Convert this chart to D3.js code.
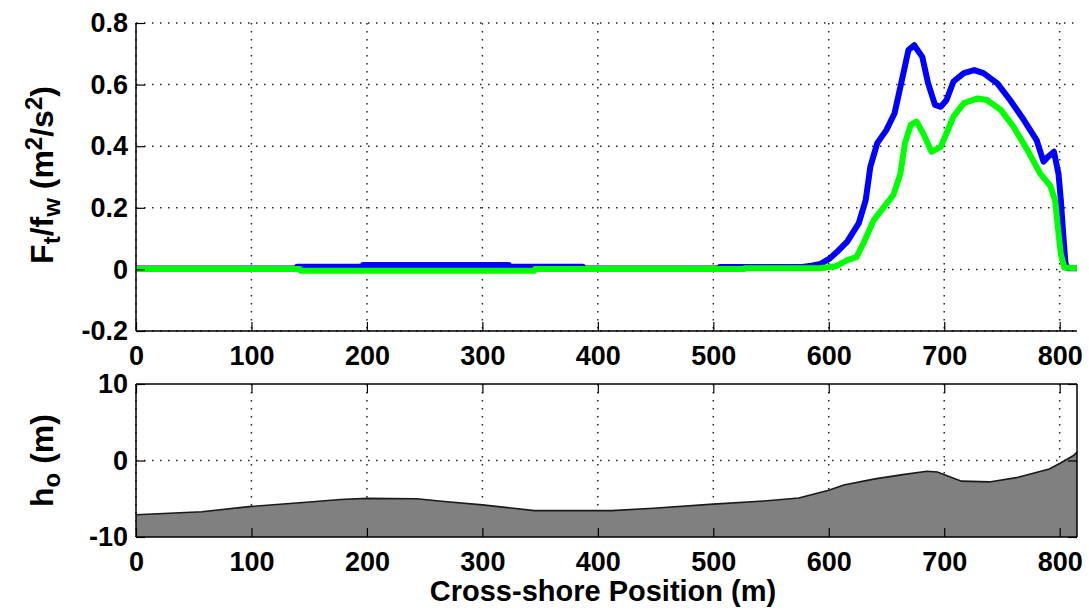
<!DOCTYPE html>
<html>
<head>
<meta charset="utf-8">
<script src="https://cdn.jsdelivr.net/npm/d3@7"></script>
<style>
  html, body { margin: 0; padding: 0; background: #fff; }
  svg { display: block; }
  text { font-family: "Liberation Sans", Arial, Helvetica, sans-serif; font-weight: bold; fill: #000; }
</style>
</head>
<body>
<svg id="chart" width="1089" height="611"></svg>
<script>
// Cross-shore forcing F_t/f_w, two runs (blue and green), positions in m
const blueX = [0, 139, 139.5, 196, 196.5, 323, 323.5, 387, 387.5, 505, 505.5, 577, 585, 593, 601, 608, 616, 626, 632, 636, 642, 650, 657, 664, 669, 674, 681, 686, 692, 697, 702, 708, 717, 726, 734, 746, 757, 769, 780, 786, 790, 795, 799, 801, 803, 805, 807, 815];
const blueY = [0.003, 0.003, 0.009, 0.009, 0.014, 0.014, 0.009, 0.009, 0.003, 0.003, 0.008, 0.008, 0.012, 0.018, 0.036, 0.06, 0.09, 0.15, 0.225, 0.333, 0.41, 0.453, 0.507, 0.626, 0.712, 0.728, 0.69, 0.605, 0.534, 0.528, 0.55, 0.61, 0.637, 0.647, 0.637, 0.604, 0.55, 0.485, 0.42, 0.35, 0.366, 0.382, 0.31, 0.225, 0.117, 0.02, 0.004, 0.004];

const greenX = [0, 142, 142.5, 345, 345.5, 527, 527.5, 592, 606, 616, 624, 630, 639, 648, 656, 662, 666, 671, 676, 682, 689, 697, 702, 708, 717, 729, 737, 749, 760, 772, 783, 792, 796, 799, 801, 804, 815];
const greenY = [0.001, 0.001, -0.004, -0.004, 0.001, 0.001, 0.004, 0.004, 0.01, 0.03, 0.04, 0.085, 0.16, 0.204, 0.242, 0.31, 0.41, 0.469, 0.48, 0.44, 0.382, 0.398, 0.442, 0.496, 0.54, 0.555, 0.55, 0.518, 0.463, 0.388, 0.312, 0.27, 0.225, 0.117, 0.05, 0.006, 0.004];

// Bed elevation h_o (m) along the profile
const depthX = [0, 57, 100, 153, 177, 200, 243, 267, 300, 327, 345, 400, 412, 448, 500, 544, 574, 600, 613, 640, 664, 685, 694, 715, 739, 764, 791, 800, 812, 815];
const depthY = [-7.1, -6.7, -6.0, -5.4, -5.1, -4.95, -5.0, -5.35, -5.8, -6.25, -6.55, -6.55, -6.55, -6.25, -5.7, -5.3, -4.9, -3.9, -3.2, -2.4, -1.85, -1.4, -1.5, -2.7, -2.8, -2.2, -1.1, -0.4, 0.65, 1.1];

const xTicks = [0, 100, 200, 300, 400, 500, 600, 700, 800];
const topYTicks = [-0.2, 0, 0.2, 0.4, 0.6, 0.8];
const botYTicks = [-10, 0, 10];

const svg = d3.select("#chart");
const L = 136, R = 1077;
const top1 = 23, bot1 = 331;
const top2 = 384, bot2 = 537;
const tickLen = 9;
const fontSize = 27;

const x = d3.scaleLinear().domain([0, 815]).range([L, R]);
const y1 = d3.scaleLinear().domain([-0.2, 0.8]).range([bot1, top1]);
const y2 = d3.scaleLinear().domain([-10, 10]).range([bot2, top2]);

// plain hyphen for negatives, as in the printed figure
const fmt1 = d => d === 0 ? "0" : d3.format(".1f")(d).replace("\u2212", "-");
const fmtInt = d => String(d);

const dotted = { stroke: "#222", "stroke-width": 1.5, "stroke-dasharray": "1.5,6.5" };
function applyAttrs(sel, attrs) { Object.entries(attrs).forEach(([k, v]) => sel.attr(k, v)); return sel; }
function styleAxis(a) {
  a.select(".domain").attr("stroke", "#000").attr("stroke-width", 1.5);
  a.selectAll(".tick line").attr("stroke", "#000").attr("stroke-width", 1.2);
  a.selectAll(".tick text").style("font-size", fontSize + "px")
    .style("font-family", "'Liberation Sans', Arial, sans-serif").style("font-weight", "bold").attr("fill", "#000");
}

// ---------- upper panel: forcing ----------
const g1 = svg.append("g");
xTicks.forEach(t => applyAttrs(g1.append("line").attr("x1", x(t)).attr("x2", x(t)).attr("y1", top1).attr("y2", bot1), dotted));
topYTicks.forEach(t => applyAttrs(g1.append("line").attr("x1", L).attr("x2", R).attr("y1", y1(t)).attr("y2", y1(t)), dotted));

const line1 = d3.line().x(d => x(d[0])).y(d => y1(d[1]));
const blue = blueX.map((v, i) => [v, blueY[i]]);
const green = greenX.map((v, i) => [v, greenY[i]]);
g1.append("path").datum(blue).attr("d", line1).attr("fill", "none")
  .attr("stroke", "#0000ff").attr("stroke-width", 6).attr("stroke-linejoin", "round");
g1.append("path").datum(green).attr("d", line1).attr("fill", "none")
  .attr("stroke", "#00ff00").attr("stroke-width", 6).attr("stroke-linejoin", "round");

// axes (left + bottom only), ticks point inward
const ax1x = g1.append("g").attr("transform", `translate(0,${bot1})`)
  .call(d3.axisBottom(x).tickValues(xTicks).tickSize(-tickLen).tickPadding(15).tickFormat(fmtInt));
const ax1y = g1.append("g").attr("transform", `translate(${L},0)`)
  .call(d3.axisLeft(y1).tickValues(topYTicks).tickSize(-tickLen).tickPadding(8).tickFormat(fmt1));
[ax1x, ax1y].forEach(styleAxis);
ax1x.select(".domain").attr("d", `M${L},0H${R}`);
ax1y.select(".domain").attr("d", `M0,${bot1}V${top1}`);

const yl1 = svg.append("text").attr("transform", `translate(53,175) rotate(-90)`)
  .attr("text-anchor", "middle").style("font-size", "32px");
yl1.append("tspan").text("F");
yl1.append("tspan").attr("baseline-shift", "-30%").style("font-size", "24px").text("t");
yl1.append("tspan").text("/f");
yl1.append("tspan").attr("baseline-shift", "-30%").style("font-size", "24px").text("w");
yl1.append("tspan").text(" (m");
yl1.append("tspan").attr("baseline-shift", "45%").style("font-size", "24px").text("2");
yl1.append("tspan").text("/s");
yl1.append("tspan").attr("baseline-shift", "45%").style("font-size", "24px").text("2");
yl1.append("tspan").text(")");

// ---------- lower panel: bed profile ----------
const g2 = svg.append("g");
xTicks.forEach(t => applyAttrs(g2.append("line").attr("x1", x(t)).attr("x2", x(t)).attr("y1", top2).attr("y2", bot2), dotted));
applyAttrs(g2.append("line").attr("x1", L).attr("x2", R).attr("y1", y2(0)).attr("y2", y2(0)), dotted);

const depth = depthX.map((v, i) => [v, depthY[i]]);
const area = d3.area().x(d => x(d[0])).y0(y2(-10)).y1(d => y2(d[1]));
g2.append("path").datum(depth).attr("d", area).attr("fill", "#808080");
g2.append("path").datum(depth).attr("d", d3.line().x(d => x(d[0])).y(d => y2(d[1])))
  .attr("fill", "none").attr("stroke", "#1a1a1a").attr("stroke-width", 1.6);

const ax2x = g2.append("g").attr("transform", `translate(0,${bot2})`)
  .call(d3.axisBottom(x).tickValues(xTicks).tickSize(-tickLen).tickPadding(15).tickFormat(fmtInt));
const ax2y = g2.append("g").attr("transform", `translate(${L},0)`)
  .call(d3.axisLeft(y2).tickValues(botYTicks).tickSize(-tickLen).tickPadding(8).tickFormat(fmtInt));
const ax2t = g2.append("g").attr("transform", `translate(0,${top2})`)
  .call(d3.axisTop(x).tickValues(xTicks).tickSize(-tickLen).tickFormat(""));
const ax2r = g2.append("g").attr("transform", `translate(${R},0)`)
  .call(d3.axisRight(y2).tickValues(botYTicks).tickSize(-tickLen).tickFormat(""));
[ax2x, ax2y, ax2t, ax2r].forEach(styleAxis);
ax2x.select(".domain").attr("d", `M${L},0H${R}`);
ax2t.select(".domain").attr("d", `M${L},0H${R}`);
ax2y.select(".domain").attr("d", `M0,${bot2}V${top2}`);
ax2r.select(".domain").attr("d", `M0,${bot2}V${top2}`);

const yl2 = svg.append("text").attr("transform", `translate(53,${(top2 + bot2) / 2}) rotate(-90)`)
  .attr("text-anchor", "middle").style("font-size", "32px");
yl2.append("tspan").text("h");
yl2.append("tspan").attr("baseline-shift", "-30%").style("font-size", "24px").text("o");
yl2.append("tspan").text(" (m)");

svg.append("text").attr("x", 603).attr("y", 601).attr("text-anchor", "middle")
  .style("font-size", "29px").text("Cross-shore Position (m)");
</script>
</body>
</html>
